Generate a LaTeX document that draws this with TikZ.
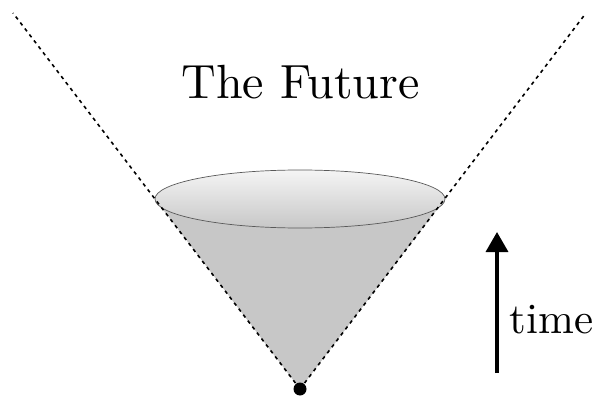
\documentclass[tikz,border=0pt]{standalone}
\usetikzlibrary{arrows.meta}
\begin{document}
\begin{tikzpicture}[x=1pt,y=-1pt,
  lightline/.style={line width=1.6pt,dash pattern=on 3.5pt off 4pt},
  conefill/.style={fill=black!22,draw=none},
  slice/.style={draw=black!65,line width=0.7pt,top color=black!4,bottom color=black!22},
  label/.style={inner sep=0pt},
  timearrow/.style={line width=3.5pt,-{Triangle[width=22pt,length=20pt]}}]
\useasboundingbox (0,0) rectangle (595,396);
\coordinate (apex) at (300,389);
\coordinate (tl) at (13,13);
\coordinate (tr) at (586,13);
\coordinate (el) at (155,199);
\coordinate (er) at (445,199);
\coordinate (ec) at (300,199);
\fill[conefill] (apex) -- (el) -- (er) -- cycle;
\path[slice] (ec) ellipse [x radius=145, y radius=29];
\draw[lightline] (apex) -- (tl);
\draw[lightline] (apex) -- (tr);
\fill (apex) circle [radius=6.5];
\coordinate (ta) at (497,373);
\coordinate (tb) at (497,232);
\draw[timearrow] (ta) -- (tb);
\node[label,scale=4.3,anchor=base west] (time) at (509,333) {time};
\node[label,scale=4.8,anchor=base] (future) at (300.5,98.3) {The Future};
\end{tikzpicture}
\end{document}
